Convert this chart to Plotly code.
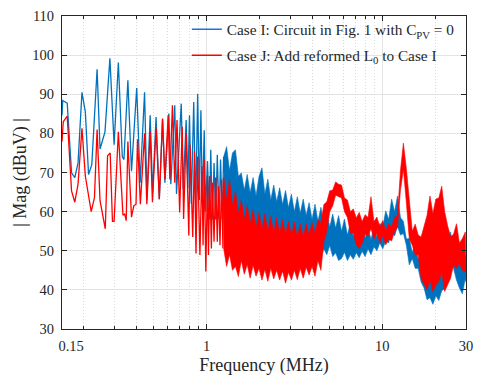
import plotly.graph_objects as go

# ---------------- data ----------------
# Low-frequency part: individual harmonic peaks / troughs (MHz, dBuV)
f_low_blue = [0.1500, 0.1514, 0.1606, 0.1700, 0.1774, 0.1851, 0.1949, 0.2037, 0.2125, 0.2217,
              0.2377, 0.2470, 0.2636, 0.2811, 0.2971, 0.3141, 0.3307, 0.3380, 0.3559, 0.3732,
              0.3996, 0.4181, 0.4430, 0.4575, 0.4767, 0.4924, 0.5150, 0.5375, 0.5608, 0.5785,
              0.6091, 0.6250, 0.6581, 0.6735, 0.7166, 0.7353, 0.7643, 0.7812, 0.7985, 0.8173,
              0.8440, 0.8661, 0.8887, 0.9084, 0.9273, 0.9454, 0.9689, 0.9853, 1.011, 1.037,
              1.055, 1.078, 1.102, 1.125, 1.150, 1.176, 1.200, 1.227, 1.249]
v_low_blue = [84.6, 88.4, 87.7, 69.9, 68.7, 72.4, 90.5, 85.5, 69.5, 72.0,
              96.4, 76.0, 80.4, 99.2, 77.1, 98.1, 74.1, 73.3, 93.6, 70.3,
              91.6, 67.4, 90.5, 63.2, 84.6, 64.9, 84.2, 63.2, 83.6, 67.4,
              85.1, 67.0, 87.2, 64.5, 87.6, 65.7, 83.4, 66.0, 84.6, 62.0,
              88.0, 60.0, 90.1, 63.0, 85.9, 62.0, 80.8, 60.0, 72.9, 58.0,
              75.8, 58.0, 72.4, 58.0, 74.5, 58.0, 73.3, 58.0, 74.0]

f_low_red = [0.1500, 0.1525, 0.1606, 0.1700, 0.1774, 0.1851, 0.1949, 0.2037, 0.2200, 0.2296,
             0.2377, 0.2470, 0.2646, 0.2726, 0.2822, 0.2907, 0.2971, 0.3141, 0.3337, 0.3411,
             0.3482, 0.3559, 0.3732, 0.3845, 0.3960, 0.4038, 0.4192, 0.4430, 0.4563, 0.4767,
             0.4911, 0.5150, 0.5375, 0.5608, 0.5785, 0.6036, 0.6170, 0.6380, 0.6581, 0.6779,
             0.7019, 0.7258, 0.7391, 0.7643, 0.7913, 0.8047, 0.8332, 0.8517, 0.8694, 0.8887,
             0.9154, 0.9393, 0.9540, 0.9689, 0.9891, 1.011, 1.024, 1.041, 1.064, 1.078,
             1.102, 1.125, 1.150, 1.165, 1.191, 1.216, 1.238, 1.249]
v_low_red = [77.9, 83.0, 84.4, 65.3, 62.4, 67.0, 81.3, 69.1, 60.0, 63.6,
             81.0, 62.8, 55.6, 74.3, 75.0, 57.5, 57.5, 80.4, 59.1, 59.4,
             57.7, 77.9, 58.6, 61.5, 61.9, 78.5, 61.9, 80.0, 61.9, 80.4,
             62.4, 81.3, 63.2, 83.8, 68.2, 84.6, 68.2, 87.2, 67.4, 83.4,
             59.8, 81.7, 58.1, 80.0, 53.9, 77.1, 53.5, 75.4, 49.3, 74.1,
             48.9, 71.6, 51.4, 73.3, 44.7, 69.1, 48.9, 69.1, 50.6, 67.4,
             52.3, 68.7, 52.3, 66.5, 51.4, 68.2, 50.6, 68.7]

# High-frequency part: dense noise, read as max / min per frequency bin
f_band = [1.250, 1.299, 1.350, 1.403, 1.459, 1.516, 1.576, 1.638, 1.702, 1.769,
          1.839, 1.911, 1.987, 2.065, 2.146, 2.231, 2.319, 2.410, 2.505, 2.604,
          2.707, 2.813, 2.924, 3.039, 3.159, 3.284, 3.413, 3.548, 3.688, 3.833,
          3.984, 4.141, 4.304, 4.474, 4.650, 4.833, 5.024, 5.222, 5.428, 5.641,
          5.864, 6.095, 6.335, 6.585, 6.844, 7.114, 7.394, 7.686, 7.988, 8.303,
          8.630, 8.970, 9.324, 9.691, 10.07, 10.47, 10.88, 11.31, 11.76, 12.22,
          12.70, 13.20, 13.72, 14.26, 14.83, 15.41, 16.02, 16.65, 17.31, 17.99,
          18.70, 19.43, 20.20, 21.00, 21.82, 22.68, 23.58, 24.51, 25.47, 26.48,
          27.52, 28.61, 29.73, 30.00]

blue_hi = [74.0, 76.6, 70.5, 75.0, 75.8, 69.0, 69.9, 65.5, 69.5, 64.8,
           68.7, 64.0, 69.0, 71.2, 64.5, 68.3, 63.0, 66.8, 62.5, 66.1,
           61.8, 65.4, 61.0, 64.5, 60.0, 63.8, 59.6, 63.2, 59.0, 62.3,
           58.0, 61.9, 57.5, 61.1, 56.8, 59.8, 56.0, 59.4, 55.8, 59.0,
           55.0, 58.1, 54.0, 57.0, 53.6, 56.4, 53.0, 56.6, 53.2, 56.0,
           52.8, 56.2, 53.5, 57.0, 56.0, 60.2, 58.0, 63.2, 60.0, 64.0,
           58.5, 57.5, 53.0, 53.1, 49.5, 52.3, 47.8, 48.6, 45.0, 44.5,
           42.5, 44.2, 42.0, 45.6, 44.5, 48.2, 49.0, 54.8, 50.0, 51.4,
           47.0, 47.2, 48.9, 46.5]
blue_lo = [58.0, 55.0, 56.5, 53.5, 55.5, 53.0, 54.5, 52.0, 53.5, 51.5,
           52.5, 50.5, 52.0, 50.0, 51.5, 49.5, 51.0, 49.0, 50.5, 48.5,
           50.0, 48.5, 49.5, 47.8, 49.8, 48.0, 49.5, 47.5, 49.0, 48.2,
           49.6, 47.8, 49.3, 48.2, 50.5, 49.0, 51.4, 48.5, 49.5, 47.5,
           48.0, 49.6, 47.5, 49.0, 47.8, 49.5, 48.2, 49.9, 48.5, 50.5,
           49.0, 51.0, 50.0, 52.0, 50.5, 52.5, 52.0, 55.0, 53.8, 56.2,
           54.0, 54.4, 51.4, 46.4, 48.0, 45.5, 45.5, 42.0, 40.5, 37.5,
           38.0, 36.3, 38.5, 37.3, 39.8, 40.3, 45.0, 46.0, 45.5, 42.5,
           40.5, 39.0, 43.0, 42.0]

red_hi = [68.7, 63.0, 68.4, 61.5, 65.3, 59.5, 63.0, 58.0, 61.6, 57.0,
          60.5, 56.0, 59.8, 55.5, 59.5, 55.0, 58.8, 54.6, 58.4, 54.5,
          58.0, 54.2, 57.6, 54.0, 57.3, 53.5, 56.8, 53.6, 56.9, 54.0,
          57.2, 54.5, 58.0, 57.0, 61.8, 62.5, 65.3, 65.5, 67.6, 67.0,
          66.8, 63.5, 63.0, 60.0, 60.7, 58.4, 59.8, 57.5, 59.2, 58.5,
          63.8, 57.4, 58.6, 56.1, 57.7, 55.0, 57.0, 56.0, 58.6, 59.0,
          70.5, 77.5, 71.0, 62.3, 55.0, 56.8, 54.0, 53.5, 56.5, 59.0,
          64.0, 59.5, 63.2, 63.5, 66.5, 60.0, 56.4, 53.6, 54.2, 56.9,
          52.0, 53.1, 54.8, 49.5]
red_lo = [50.6, 46.0, 49.0, 45.0, 46.0, 43.4, 47.5, 44.0, 46.5, 43.0,
          46.3, 43.5, 45.5, 42.5, 45.2, 42.2, 45.5, 42.8, 45.0, 42.5,
          44.8, 41.7, 44.5, 42.5, 45.0, 42.6, 45.5, 43.0, 45.8, 43.8,
          46.0, 43.5, 47.5, 45.0, 52.3, 55.0, 60.0, 61.5, 64.2, 63.8,
          63.5, 60.0, 58.5, 54.5, 54.5, 51.5, 50.6, 52.0, 54.2, 53.8,
          55.6, 53.0, 54.4, 52.0, 53.9, 51.5, 53.0, 52.5, 55.0, 56.0,
          65.5, 70.8, 62.3, 53.0, 51.4, 49.0, 49.0, 43.0, 41.5, 40.0,
          42.5, 39.5, 41.3, 42.0, 44.7, 39.6, 41.3, 43.0, 46.4, 45.5,
          46.8, 45.0, 44.7, 45.0]

names = ["Case I: Circuit in Fig. 1 with C<sub>PV</sub> = 0",
         "Case J: Add reformed L<sub>0</sub> to Case I"]
BLUE = "#0072BD"
RED = "#FF0000"

x_ticks = [0.15, 1, 10, 30]
# leading figure spaces nudge the first label right, as in the reference
x_ticklabels = ["\u2007\u2007\u00a00.15", "1", "10", "30"]
x_minor = [0.2, 0.3, 0.4, 0.5, 0.6, 0.7, 0.8, 0.9, 2, 3, 4, 5, 6, 7, 8, 9, 20]

fig = go.Figure()

def add_series(f_low, v_low, hi, lo, color):
    fig.add_trace(go.Scatter(x=f_low, y=v_low, mode="lines",
                             line=dict(color=color, width=1.3),
                             showlegend=False, hoverinfo="skip"))
    fig.add_trace(go.Scatter(x=f_band + f_band[::-1], y=hi + lo[::-1],
                             mode="lines", fill="toself", fillcolor=color,
                             line=dict(color=color, width=0.6),
                             showlegend=False, hoverinfo="skip"))

add_series(f_low_blue, v_low_blue, blue_hi, blue_lo, BLUE)
add_series(f_low_red, v_low_red, red_hi, red_lo, RED)

# legend entries
fig.add_trace(go.Scatter(x=[None], y=[None], mode="lines", name=names[0],
                         line=dict(color="#1f73d8", width=1.6), legendgroup="a"))
fig.add_trace(go.Scatter(x=[None], y=[None], mode="lines", name=names[1],
                         line=dict(color=RED, width=1.6), legendgroup="b"))

SERIF = "Liberation Serif, Times New Roman, serif"
fig.update_layout(
    width=481, height=379,
    margin=dict(l=62, r=8, t=14, b=48),
    paper_bgcolor="white", plot_bgcolor="white",
    font=dict(family=SERIF, size=14.5, color="#262626"),
    showlegend=True,
    legend=dict(x=0.309, y=1.01, xanchor="left", yanchor="top",
                bgcolor="rgba(0,0,0,0)", borderwidth=0,
                font=dict(family=SERIF, size=15.3, color="#262626"),
                traceorder="grouped", tracegroupgap=3),
    xaxis=dict(type="log", range=[-0.8239, 1.4771],
               tickmode="array", tickvals=x_ticks, ticktext=x_ticklabels,
               ticks="inside", ticklen=5, tickcolor="#262626",
               showline=True, linecolor="#262626", linewidth=1, mirror="ticks",
               showgrid=True, gridcolor="#e3e3e3", gridwidth=1,
               minor=dict(tickmode="array", tickvals=x_minor, ticks="inside",
                          ticklen=3, tickcolor="#262626", showgrid=True,
                          gridcolor="#dadada", griddash="1px,2px", gridwidth=1),
               zeroline=False,
               title=dict(text="Frequency (MHz)", font=dict(size=18, family=SERIF),
                          standoff=4),
               ticklabelstandoff=4),
    yaxis=dict(range=[30, 110], tickmode="linear", tick0=30, dtick=10,
               ticks="inside", ticklen=5, tickcolor="#262626",
               showline=True, linecolor="#262626", linewidth=1, mirror="ticks",
               showgrid=True, gridcolor="#e3e3e3", gridwidth=1, zeroline=False,
               title=dict(text="| Mag (dBuV) |", font=dict(size=18, family=SERIF),
                          standoff=1),
               ticklabelstandoff=4),
)

fig.write_html("out.html")
